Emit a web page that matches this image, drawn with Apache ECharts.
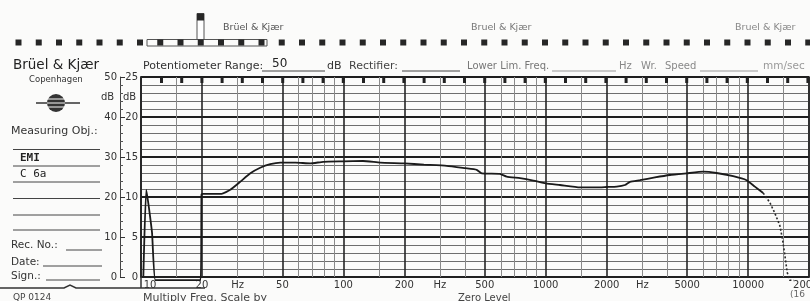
<!DOCTYPE html>
<html>
<head>
<meta charset="utf-8">
<script src="https://cdn.jsdelivr.net/npm/echarts@6.0.0/dist/echarts.min.js"></script>
<style>
  html, body { margin: 0; padding: 0; background: #fbfbfa; }
  #chart { width: 810px; height: 301px; }
</style>
</head>
<body>
<div id="chart"></div>
<script>
// frequency response trace (Hz / dB on the 25 dB scale); pen rests a little below 0 between the bursts
var curveFreq = [10.27, 10.62, 11.33, 11.77, 13, 16, 19.7, 19.9, 20.2, 22, 25, 27.6, 30.9, 34.7, 38.8, 43.5, 48.8, 58, 68.6, 79.5, 100, 125, 152, 200, 250, 324, 400, 456, 483, 594, 641, 747, 869, 1000, 1177, 1476, 1786, 2000, 2243, 2464, 2609, 2922, 3465, 4110, 4970, 6000, 6987, 8440, 9830, 10800, 11874];
var curveDb   = [0, 10.9, 5.6, -0.4, -0.4, -0.4, -0.4, 10.3, 10.4, 10.4, 10.4, 10.9, 11.9, 12.96, 13.65, 14.1, 14.3, 14.3, 14.2, 14.4, 14.45, 14.5, 14.3, 14.2, 14.05, 13.9, 13.6, 13.4, 12.96, 12.9, 12.55, 12.35, 12.05, 11.7, 11.5, 11.2, 11.2, 11.25, 11.3, 11.5, 11.9, 12.1, 12.45, 12.75, 12.96, 13.16, 13.0, 12.6, 12.1, 11.3, 10.5];
// fast pen fall-off (drawn dotted)
var tailFreq = [11874, 12812, 13553, 14360, 14800, 15200, 15600, 16070, 16800];
var tailDb   = [10.5, 9.3, 8.0, 6.4, 4.7, 2.7, 0.6, -0.4, -0.4];

// printed paper grid
var gridFreqs = [10, 15, 20, 30, 40, 50, 60, 70, 80, 90, 100, 150, 200, 300, 400, 500, 600, 700, 800, 900, 1000, 1500, 2000, 3000, 4000, 5000, 6000, 7000, 8000, 9000, 10000, 15000, 20000];
var boldFreqs = [10, 20, 50, 100, 200, 500, 1000, 2000, 5000, 10000, 20000];
var tickFreqs  = [10, 20, 30, 50, 100, 200, 300, 500, 1000, 2000, 3000, 5000, 10000, 20000];
var tickLabels = ['10', '20', 'Hz', '50', '100', '200', 'Hz', '500', '1000', '2000', 'Hz', '5000', '10000', '20000'];

var FONT = 'DejaVu Sans';
var chart = echarts.init(document.getElementById('chart'));

function pairs(xs, ys) {
  return xs.map(function (x, i) { return [x, ys[i]]; });
}

// vertical grid lines + frequency labels
var vLines = gridFreqs.map(function (f) {
  var bold = boldFreqs.indexOf(f) >= 0;
  var ti = tickFreqs.indexOf(f);
  return {
    xAxis: f,
    lineStyle: { color: bold ? '#262626' : '#8a8a8a', width: bold ? 1.6 : 1, type: 'solid' },
    label: ti >= 0 ? {
      show: true, position: 'start', distance: 3,
      formatter: tickLabels[ti],
      fontFamily: FONT, fontSize: 10, color: '#333',
      padding: f === 10 ? [0, 0, 0, 18] : 0
    } : { show: false }
  };
});

// ---- paper decoration ----
function txt(s, x, y, size, color, extra) {
  return {
    type: 'text', silent: true, z: 20,
    style: Object.assign({ text: s, x: x, y: y, fontSize: size, fill: color, fontFamily: FONT, verticalAlign: 'middle' }, extra || {})
  };
}
function ln(x1, y1, x2, y2, w, c) {
  return { type: 'line', silent: true, z: 20, shape: { x1: x1, y1: y1, x2: x2, y2: y2 }, style: { stroke: c || '#444', lineWidth: w || 1 } };
}
var deco = [];
// sprocket holes
for (var k = 0; k < 40; k++) {
  deco.push({ type: 'rect', silent: true, z: 20, shape: { x: 15.5 + 20.25 * k, y: 39.5, width: 6, height: 6 }, style: { fill: '#262626' } });
}
deco.push({ type: 'rect', silent: true, z: 19, shape: { x: 147, y: 39.5, width: 120, height: 6.5 }, style: { fill: 'none', stroke: '#555', lineWidth: 1 } });
deco.push({ type: 'rect', silent: true, z: 19, shape: { x: 197, y: 13.5, width: 7, height: 26 }, style: { fill: '#fff', stroke: '#555', lineWidth: 1 } });
deco.push({ type: 'rect', silent: true, z: 20, shape: { x: 197, y: 13.5, width: 7, height: 7 }, style: { fill: '#262626' } });
// ticks hanging from top border
for (var j = 0; j < 33; j++) {
  deco.push({ type: 'rect', silent: true, z: 20, shape: { x: 160 + 20.2 * j, y: 77, width: 3, height: 6 }, style: { fill: '#222' } });
}
deco.push(
  txt('Brüel & Kjær', 223, 28, 9.5, '#555'),
  txt('Bruel & Kjær', 471, 28, 9.5, '#777'),
  txt('Bruel & Kjær', 735, 28, 9.5, '#888'),
  txt('Brüel & Kjær', 13, 65, 13.5, '#222'),
  txt('Copenhagen', 29, 80, 8.5, '#333'),
  txt('Measuring Obj.:', 11, 131, 11, '#333'),
  txt('EMI', 20, 158, 11, '#222', { fontFamily: 'DejaVu Sans Mono', fontWeight: 'bold' }),
  txt('C 6a', 20, 174, 11, '#222', { fontFamily: 'DejaVu Sans Mono' }),
  txt('Rec. No.:', 11, 245, 10.5, '#333'),
  txt('Date:', 11, 262, 10.5, '#333'),
  txt('Sign.:', 11, 276, 10.5, '#333'),
  txt('QP 0124', 13, 298, 9, '#444'),
  txt('Potentiometer Range:', 143, 66, 11, '#333'),
  txt('50', 272, 64, 12, '#222'),
  txt('dB', 327, 66, 11, '#333'),
  txt('Rectifier:', 349, 66, 11, '#444'),
  txt('Lower Lim. Freq.', 467, 66, 10, '#777'),
  txt('Hz', 619, 66, 10, '#888'),
  txt('Wr.', 641, 66, 10, '#888'),
  txt('Speed', 665, 66, 10, '#888'),
  txt('mm/sec', 763, 66, 10.5, '#999'),
  txt('dB', 101, 97, 10, '#333'),
  txt('dB', 123, 97, 10, '#333'),
  txt('Multiply Freq. Scale by', 143, 298, 11, '#444'),
  txt('Zero Level', 458, 298, 10, '#444'),
  txt('(16', 790, 295, 9, '#666'),
  ln(262, 71, 325, 71), ln(402, 71, 460, 71), ln(552, 71, 616, 71, 1, '#999'), ln(700, 71, 758, 71, 1, '#999'),
  ln(13, 149.5, 100, 149.5), ln(13, 166, 100, 166), ln(13, 182, 100, 182),
  ln(13, 198.5, 100, 198.5), ln(13, 215, 100, 215), ln(13, 230, 100, 230),
  ln(66, 250, 102, 250), ln(43, 266, 102, 266), ln(46, 280, 100, 280),
  { type: 'polyline', silent: true, z: 20, shape: { points: [[0, 288], [64, 288], [70, 285], [76, 288], [205, 288]] }, style: { stroke: '#333', lineWidth: 1.5, fill: 'none' } },
  ln(141, 277, 141, 288, 1.5, '#333'),
  // logo
  ln(36, 103, 80, 103, 1.5, '#333'),
  { type: 'circle', silent: true, z: 20, shape: { cx: 56, cy: 103, r: 9 }, style: { fill: '#333' } },
  ln(47, 99, 65, 99, 1, '#fbfbfa'), ln(47, 103, 65, 103, 1, '#fbfbfa'), ln(47, 107, 65, 107, 1, '#fbfbfa')
);

chart.setOption({
  animation: false,
  backgroundColor: '#fbfbfa',
  grid: { left: 141, right: 1, top: 77, bottom: 24, show: true, borderColor: '#222', borderWidth: 1.5 },
  xAxis: {
    type: 'log', logBase: 10, min: 10, max: 20000,
    axisLine: { show: true, lineStyle: { color: '#222', width: 1.5 } },
    axisTick: { show: false },
    axisLabel: { show: false },
    splitLine: { show: false }
  },
  yAxis: [
    {
      // 1 dB lines, 0..25 labels
      type: 'value', min: 0, max: 25, interval: 1,
      axisLine: { show: true, lineStyle: { color: '#222', width: 1.5 } },
      axisTick: { show: false },
      axisLabel: {
        margin: 3, fontFamily: FONT, fontSize: 10, color: '#333',
        formatter: function (v) { return v % 5 === 0 ? String(v) : ''; }
      },
      splitLine: { show: true, lineStyle: { color: '#6e6e6e', width: 1 } }
    },
    {
      // bold 5 dB lines
      type: 'value', min: 0, max: 25, interval: 5,
      axisLine: { show: false }, axisTick: { show: false }, axisLabel: { show: false },
      splitLine: { show: true, lineStyle: { color: '#1e1e1e', width: 2 } }
    },
    {
      // outer 0..50 dB scale
      type: 'value', min: 0, max: 50, interval: 10, position: 'left', offset: 21,
      axisLine: { show: true, lineStyle: { color: '#444', width: 1 } },
      axisTick: { show: true, inside: true, length: 5, lineStyle: { color: '#333' } },
      minorTick: { show: true, splitNumber: 5, length: 3, lineStyle: { color: '#555' } },
      axisLabel: { margin: 3, fontFamily: FONT, fontSize: 10, color: '#333' },
      splitLine: { show: false }
    }
  ],
  graphic: deco,
  series: [
    {
      name: 'grid', type: 'line', data: [], z: 1,
      markLine: { silent: true, symbol: 'none', animation: false, label: { show: false }, lineStyle: { type: 'solid' }, data: vLines }
    },
    {
      name: 'response', type: 'line', z: 5, showSymbol: false, smooth: 0.15, clip: false,
      lineStyle: { color: '#1a1a1a', width: 1.8 },
      data: pairs(curveFreq, curveDb)
    },
    {
      name: 'fall-off', type: 'line', z: 5, showSymbol: false, clip: false,
      lineStyle: { color: '#2a2a2a', width: 1.6, type: [2, 2] },
      data: pairs(tailFreq, tailDb)
    }
  ]
});
</script>
</body>
</html>
